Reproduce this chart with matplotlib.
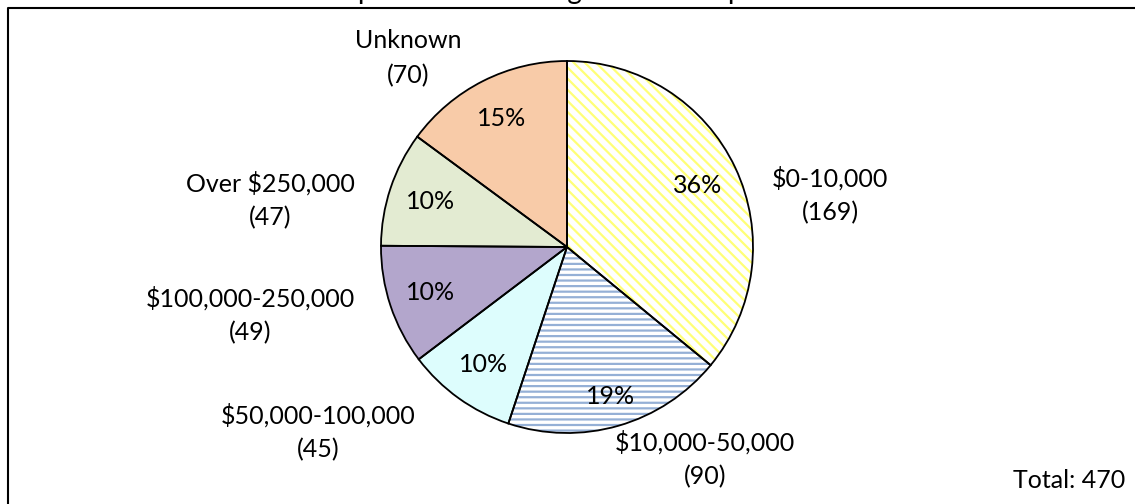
import matplotlib
matplotlib.use("Agg")
import matplotlib.pyplot as plt
from matplotlib.lines import Line2D

# ---- data ----
categories = ["$0-10,000", "$10,000-50,000", "$50,000-100,000",
              "$100,000-250,000", "Over $250,000", "Unknown"]
counts = [169, 90, 45, 49, 47, 70]
total_label = "Total: 470"
title_text = "Expenditure Ranking for All Companies"

# ---- styles ----
face_colors = ["white", "white", "#DDFDFD", "#B3A6CC", "#E3EBD2", "#F8CBA8"]
hatch_colors = ["#FFFF77", "#95B0D6", "#C8FAFA", "#8C78B0", "#D0DDB4", "#F3AE7E"]
hatches = ["\\\\\\", "---", "", "", "", ""]

W, H = 1135, 504
DPI = 100
FS = 18
plt.rcParams['font.family'] = ['Lato', 'DejaVu Sans']
plt.rcParams['hatch.linewidth'] = 1.6

fig = plt.figure(figsize=(W / DPI, H / DPI), dpi=DPI)

cx, cy, R = 567, 247, 186
ax = fig.add_axes([(cx - R) / W, (H - cy - R) / H, 2 * R / W, 2 * R / H])

# hatched fills + percentage labels
wedges, _, pct_texts = ax.pie(
    counts, startangle=90, counterclock=False, radius=1,
    autopct=lambda p: f"{round(p):.0f}%", pctdistance=0.775,
    textprops=dict(fontsize=FS), wedgeprops=dict(linewidth=0))
for w, fc, hc, h in zip(wedges, face_colors, hatch_colors, hatches):
    w.set_facecolor(fc)
    w.set_edgecolor(hc)
    w.set_hatch(h)
    w.set_linewidth(0)
# the 19% label sits a little further out
x19, y19 = pct_texts[1].get_position()
pct_texts[1].set_position((x19 * 1.08, y19 * 1.08))

# black outlines
ax.pie(counts, startangle=90, counterclock=False, radius=1,
       wedgeprops=dict(fill=False, edgecolor='black', linewidth=1.3))
ax.set_xlim(-1, 1)
ax.set_ylim(-1, 1)
ax.axis('off')

def px(x, y):
    return x / W, 1 - y / H

# category label positions (first line centre, pixels)
cat_pos = [(830, 178), (705, 442), (318, 415), (250, 298), (270, 183), (408, 41)]
for c, v, cp in zip(categories, counts, cat_pos):
    fig.text(*px(*cp), c, ha='center', va='center', fontsize=FS)
    fig.text(*px(cp[0], cp[1] + 35), f"({v})", ha='center', va='center', fontsize=FS)

fig.text(*px(1125, 481), total_label, ha='right', va='center', fontsize=FS)

# clipped title
fig.text(0.5, 1 + 1.5 / H, title_text, ha='center', va='baseline', fontsize=20)

# frame (top and left)
fig.add_artist(Line2D([7.5 / W, 7.5 / W, 1.01], [-0.01, 1 - 7.5 / H, 1 - 7.5 / H],
                      transform=fig.transFigure, color='black', linewidth=1.5))

fig.savefig("out.png", dpi=DPI)
